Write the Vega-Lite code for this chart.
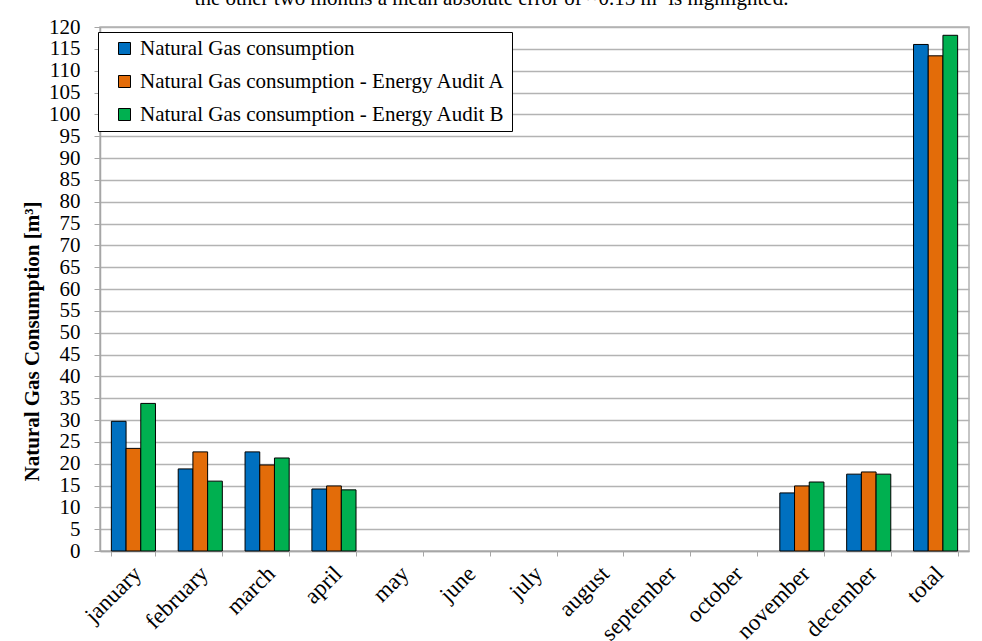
{
  "$schema": "https://vega.github.io/schema/vega-lite/v6.json",
  "autosize": "none",
  "width": 869,
  "height": 524,
  "padding": {"left": 100, "top": 27, "right": 13, "bottom": 90},
  "background": "white",
  "title": {
    "text": "the other two months a mean absolute error of ~0.15 m³ is highlighted.",
    "font": "Liberation Serif",
    "fontSize": 21,
    "fontStyle": "normal",
    "fontWeight": "normal",
    "color": "black",
    "anchor": "middle",
    "dx": -43,
    "dy": 10,
    "baseline": "alphabetic",
    "offset": 0
  },
  "data": {
    "values": [
      {"month": "january", "series": "Natural Gas consumption", "value": 29.7},
      {"month": "january", "series": "Natural Gas consumption - Energy Audit A", "value": 23.5},
      {"month": "january", "series": "Natural Gas consumption - Energy Audit B", "value": 33.8},
      {"month": "february", "series": "Natural Gas consumption", "value": 18.8},
      {"month": "february", "series": "Natural Gas consumption - Energy Audit A", "value": 22.7},
      {"month": "february", "series": "Natural Gas consumption - Energy Audit B", "value": 16.0},
      {"month": "march", "series": "Natural Gas consumption", "value": 22.7},
      {"month": "march", "series": "Natural Gas consumption - Energy Audit A", "value": 19.7},
      {"month": "march", "series": "Natural Gas consumption - Energy Audit B", "value": 21.3},
      {"month": "april", "series": "Natural Gas consumption", "value": 14.2},
      {"month": "april", "series": "Natural Gas consumption - Energy Audit A", "value": 14.9},
      {"month": "april", "series": "Natural Gas consumption - Energy Audit B", "value": 14.0},
      {"month": "november", "series": "Natural Gas consumption", "value": 13.3},
      {"month": "november", "series": "Natural Gas consumption - Energy Audit A", "value": 14.9},
      {"month": "november", "series": "Natural Gas consumption - Energy Audit B", "value": 15.8},
      {"month": "december", "series": "Natural Gas consumption", "value": 17.6},
      {"month": "december", "series": "Natural Gas consumption - Energy Audit A", "value": 18.1},
      {"month": "december", "series": "Natural Gas consumption - Energy Audit B", "value": 17.6},
      {"month": "total", "series": "Natural Gas consumption", "value": 116.0},
      {"month": "total", "series": "Natural Gas consumption - Energy Audit A", "value": 113.4},
      {"month": "total", "series": "Natural Gas consumption - Energy Audit B", "value": 118.1}
    ]
  },
  "mark": {"type": "bar", "stroke": "black", "strokeWidth": 1},
  "encoding": {
    "x": {
      "field": "month",
      "type": "nominal",
      "scale": {
        "domain": ["january", "february", "march", "april", "may", "june", "july", "august", "september", "october", "november", "december", "total"],
        "paddingInner": 0.34,
        "paddingOuter": 0.17
      },
      "axis": {
        "title": null,
        "labelAngle": -45,
        "labelFont": "Liberation Serif",
        "labelFontSize": 23,
        "labelColor": "black",
        "labelPadding": 6,
        "labelOffset": -4,
        "tickBand": "extent",
        "tickSize": 5,
        "tickColor": "#a6a6a6",
        "domainColor": "#a6a6a6",
        "domainWidth": 1.5,
        "grid": false
      }
    },
    "xOffset": {
      "field": "series",
      "type": "nominal",
      "scale": {"paddingInner": 0, "paddingOuter": 0}
    },
    "y": {
      "field": "value",
      "type": "quantitative",
      "scale": {"domain": [0, 120], "nice": false},
      "axis": {
        "title": "Natural Gas Consumption [m³]",
        "titleFont": "Liberation Serif",
        "titleFontSize": 21,
        "titleFontWeight": "bold",
        "titleColor": "black",
        "titleX": -68,
        "titleY": 314,
        "titleBaseline": "middle",
        "values": [0, 5, 10, 15, 20, 25, 30, 35, 40, 45, 50, 55, 60, 65, 70, 75, 80, 85, 90, 95, 100, 105, 110, 115, 120],
        "labelFont": "Liberation Serif",
        "labelFontSize": 21,
        "labelColor": "black",
        "labelPadding": 14,
        "labelFlush": false,
        "tickSize": 6,
        "tickColor": "#a6a6a6",
        "domainColor": "#a6a6a6",
        "domainWidth": 1.5,
        "gridColor": "#b3b3b3",
        "gridWidth": 1.5
      }
    },
    "color": {
      "field": "series",
      "type": "nominal",
      "scale": {
        "domain": ["Natural Gas consumption", "Natural Gas consumption - Energy Audit A", "Natural Gas consumption - Energy Audit B"],
        "range": ["#0070C0", "#E36C09", "#00B050"]
      },
      "legend": {
        "title": null,
        "orient": "none",
        "legendX": -2,
        "legendY": 5,
        "symbolType": "square",
        "symbolSize": 144,
        "symbolStrokeColor": "black",
        "symbolStrokeWidth": 1,
        "symbolOffset": 10,
        "labelFont": "Liberation Serif",
        "labelFontSize": 21,
        "labelColor": "black",
        "labelLimit": 600,
        "labelOffset": 5,
        "rowPadding": 11,
        "padding": 6,
        "strokeColor": "black",
        "fillColor": "white"
      }
    }
  },
  "config": {
    "view": {"stroke": "#b3b3b3", "strokeWidth": 1.5}
  }
}
